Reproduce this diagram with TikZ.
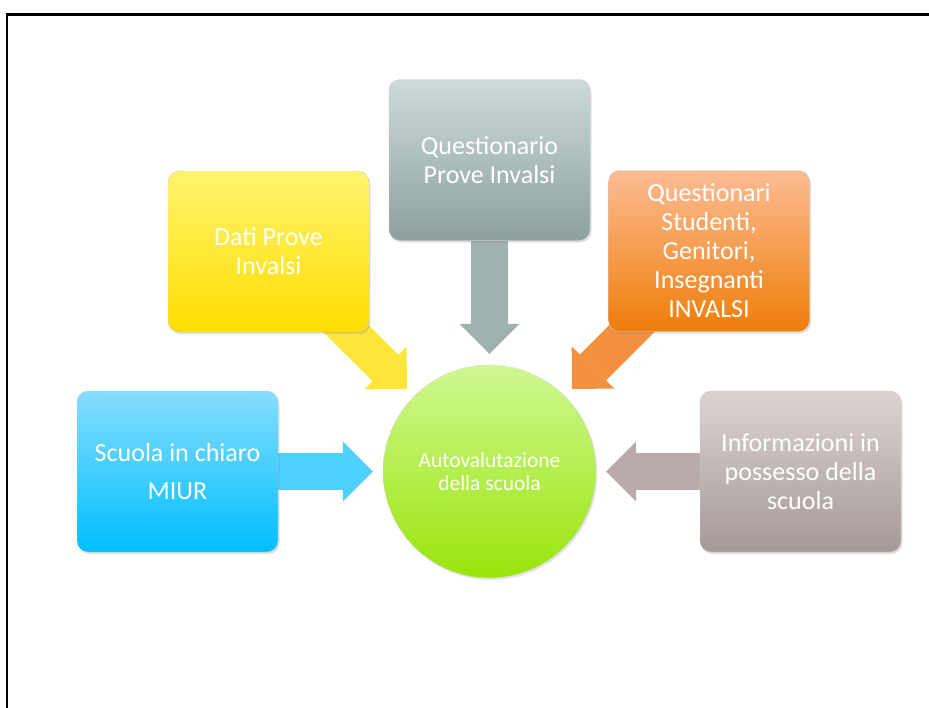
\documentclass[tikz,border=0pt]{standalone}
\usepackage{fontspec}
\setmainfont{Carlito}
\usetikzlibrary{arrows.meta,shadows}
\usepackage{xcolor}
\definecolor{yeltop}{RGB}{255,244,112}
\definecolor{yelbot}{RGB}{255,221,0}
\definecolor{yelarr}{RGB}{255,229,58}
\definecolor{grytop}{RGB}{204,219,217}
\definecolor{grybot}{RGB}{140,160,157}
\definecolor{gryarr}{RGB}{159,178,175}
\definecolor{orgtop}{RGB}{252,188,148}
\definecolor{orgbot}{RGB}{239,125,10}
\definecolor{orgarr}{RGB}{243,145,64}
\definecolor{blutop}{RGB}{134,221,255}
\definecolor{blubot}{RGB}{0,190,255}
\definecolor{bluarr}{RGB}{79,208,255}
\definecolor{grntop}{RGB}{206,248,146}
\definecolor{grnbot}{RGB}{155,228,10}
\definecolor{brntop}{RGB}{219,211,210}
\definecolor{brnbot}{RGB}{165,153,152}
\definecolor{brnarr}{RGB}{184,171,170}
\pgfdeclarelayer{background}
\pgfsetlayers{background,main}

\begin{document}
\begin{tikzpicture}[x=1pt,y=-1pt,semithick]
  \tikzstyle{every node}=[text=white,align=center,inner sep=0pt]
  \tikzstyle{source}=[rectangle,rounded corners=11pt,minimum width=201pt,minimum height=161pt,
                      draw=black!20,thin,font=\fontsize{26}{29}\selectfont,
                      drop shadow={opacity=0.25,shadow xshift=1.5pt,shadow yshift=-2pt}]
  \tikzstyle{goal}=[circle,minimum size=213pt,draw=black!15,thin,font=\fontsize{21.5}{23}\selectfont,
                    drop shadow={opacity=0.2,shadow xshift=1.5pt,shadow yshift=-2pt}]
  \tikzstyle{feed}=[line width=37pt,-{Triangle[width=60pt,length=30pt,line width=0pt]},shorten >=10pt]

  \useasboundingbox (0,0) rectangle (929,707);
  % page frame
  \draw[line width=2.5pt] (7,720) -- (7,14.5) -- (940,14.5);

  \node[goal,top color=grntop,bottom color=grnbot]     (auto) at (489.5,471.5) {Autovalutazione\\della scuola};
  \node[source,top color=yeltop,bottom color=yelbot]   (dati) at (268.5,251.5) {Dati Prove\\Invalsi};
  \node[source,top color=grytop,bottom color=grybot]   (quest) at (489.5,160) {Questionario\\Prove Invalsi};
  \node[source,top color=orgtop,bottom color=orgbot]   (stud) at (709,251) {Questionari\\Studenti,\\Genitori,\\Insegnanti\\INVALSI};
  \node[source,top color=blutop,bottom color=blubot,
        font=\fontsize{26}{38}\selectfont]            (miur) at (177.5,471.5) {Scuola in chiaro\\MIUR};
  \node[source,top color=brntop,bottom color=brnbot]   (info) at (800.5,471.5) {Informazioni in\\possesso della\\scuola};

  \begin{pgfonlayer}{background}
  \path (dati.center)  edge[feed,yelarr] (auto)
        (quest)        edge[feed,gryarr,shorten >=11pt] (auto)
        (stud.center)  edge[feed,orgarr] (auto)
        (miur)         edge[feed,bluarr] (auto)
        (info)         edge[feed,brnarr] (auto);
  \end{pgfonlayer}
\end{tikzpicture}
\end{document}
